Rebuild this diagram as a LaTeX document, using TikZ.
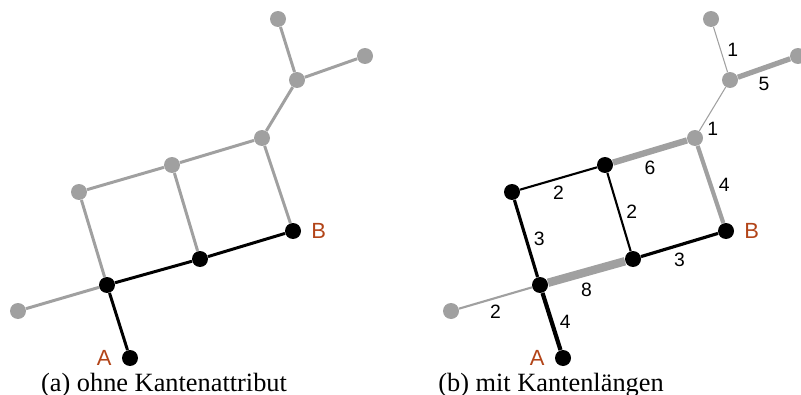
\documentclass[tikz,border=0pt]{standalone}
\usepackage{fontspec}
\setmainfont{Liberation Serif}
\setsansfont{Liberation Sans}
\usetikzlibrary{positioning}
\definecolor{knotgrau}{RGB}{160,160,160}
\definecolor{endrot}{RGB}{178,68,24}

\begin{document}
\begin{tikzpicture}[x=0.02cm, y=-0.02cm,
	knoten/.style={circle, inner sep=0pt, minimum size=0.32cm},
	gkante/.style={knotgrau, line width=1.7pt},
	skante/.style={black, line width=1.7pt},
	elab/.style={font=\sffamily\fontsize{11}{13}\selectfont, inner sep=3.6pt},
	endlabel/.style={endrot, font=\sffamily\fontsize{12.5}{14}\selectfont, inner sep=0pt},
	caption/.style={anchor=base, font=\fontsize{15}{17}\selectfont}]
	\useasboundingbox (0,0) rectangle (801,395);
	\foreach \n/\x/\y/\fa/\fb in {t/278/19/knotgrau/knotgrau, r/365/56/knotgrau/knotgrau, j/297/80/knotgrau/knotgrau, o/262/138/knotgrau/knotgrau, m/172/165/knotgrau/black, l/79/192/knotgrau/black, b/293/231/black/black, c/200/259/black/black, d/107/285/black/black, f/18/311/knotgrau/knotgrau, s/130/358/black/black} {
		\node[knoten, fill=\fa] (a\n) at (\x,\y) {};
		\node[knoten, fill=\fb] (b\n) at (\x+433,\y) {};
	}
	\foreach \von/\nach in {t/j, r/j, j/o, o/m, m/l, l/d, m/c, o/b, f/d}
		\draw[gkante] (a\von) -- (a\nach);
	\draw[skante] (ad) -- (ac) -- (ab);
	\draw[skante] (ad) -- (as);
	\foreach \von/\nach/\len/\farbe/\lage/\anc in {t/j/1/knotgrau/.5/west, j/r/5/knotgrau/.5/north, o/j/1/knotgrau/.05/west, m/o/6/knotgrau/.5/north, o/b/4/knotgrau/.5/west, l/m/2/black/.5/north, m/c/2/black/.5/west, l/d/3/black/.5/west, c/b/3/black/.5/north, d/c/8/knotgrau/.5/north, f/d/2/knotgrau/.5/north, d/s/4/black/.5/west}
		\draw[draw=\farbe, line width=0.6pt*\len] (b\von) -- node[elab, pos=\lage, anchor=\anc] {\len} (b\nach);
	\node[endlabel, left=5.5pt of as] (aA) {A};
	\node[endlabel, right=5.5pt of ab] (aB) {B};
	\node[endlabel, left=5.5pt of bs] (bA) {A};
	\node[endlabel, right=5.5pt of bb] (bB) {B};
	\node[caption] (capa) at (164,391) {(a) ohne Kantenattribut};
	\node[caption] (capb) at (551,391) {(b) mit Kantenlängen};
\end{tikzpicture}
\end{document}
